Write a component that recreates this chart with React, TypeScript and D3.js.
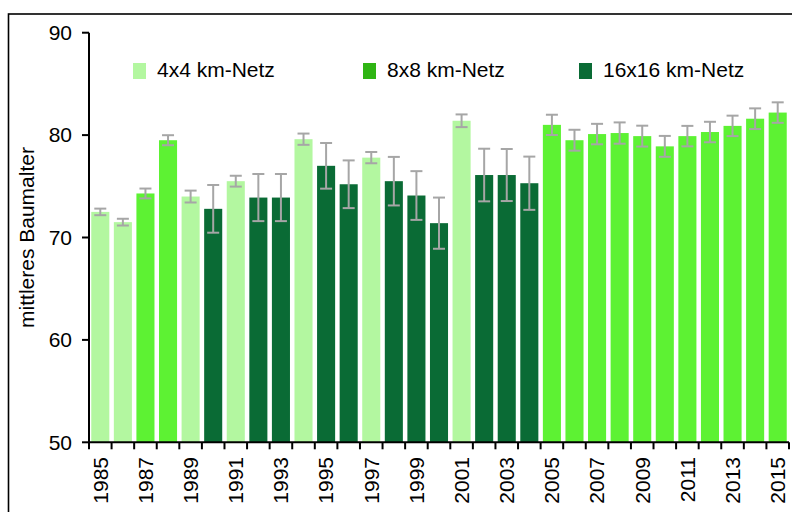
import React from "react";
import * as d3 from "d3";

const years: string[] = [
  "1985","1986","1987","1988","1989","1990","1991","1992","1993","1994",
  "1995","1996","1997","1998","1999","2000","2001","2002","2003","2004",
  "2005","2006","2007","2008","2009","2010","2011","2012","2013","2014","2015",
];
const values: number[] = [
  72.5, 71.5, 74.3, 79.5, 74.0, 72.8, 75.5, 73.9, 73.9, 79.6,
  77.0, 75.2, 77.8, 75.5, 74.1, 71.4, 81.4, 76.1, 76.1, 75.3,
  81.0, 79.5, 80.1, 80.2, 79.9, 78.9, 79.9, 80.3, 80.9, 81.6, 82.2,
];
const errors: number[] = [
  0.32, 0.33, 0.48, 0.49, 0.58, 2.33, 0.53, 2.3, 2.3, 0.55,
  2.23, 2.33, 0.55, 2.37, 2.38, 2.5, 0.62, 2.57, 2.54, 2.6,
  0.99, 1.02, 1.0, 1.04, 1.02, 1.02, 1.0, 1.0, 1.0, 1.01, 1.0,
];
const grids: string[] = [
  "4x4", "4x4", "8x8", "8x8", "4x4", "16x16", "4x4", "16x16", "16x16", "4x4",
  "16x16", "16x16", "4x4", "16x16", "16x16", "16x16", "4x4", "16x16", "16x16", "16x16",
  "8x8", "8x8", "8x8", "8x8", "8x8", "8x8", "8x8", "8x8", "8x8", "8x8", "8x8",
];
const legendKeys: string[] = ["4x4", "8x8", "16x16"];
const legendLabels: string[] = ["4x4 km-Netz", "8x8 km-Netz", "16x16 km-Netz"];
const yTicks: number[] = [50, 60, 70, 80, 90];
const xLabelYears: string[] = years.filter((_, i) => i % 2 === 0);

const barColor: Record<string, string> = { "4x4": "#b3f7a0", "8x8": "#5df233", "16x16": "#0a6b35" };
const legendColor: Record<string, string> = { "4x4": "#b3f7a0", "8x8": "#2fb514", "16x16": "#0a6b35" };

const FONT = "Liberation Sans, Arial, sans-serif";

export default function App() {
  const W = 792, H = 512;
  const x0 = 89, x1 = 789, yTop = 32.7, yBot = 442.3;
  const x = d3.scaleBand<string>().domain(years).range([x0, x1]).paddingInner(0.2).paddingOuter(0.1);
  const xb = d3.scaleBand<string>().domain(years).range([x0, x1]).padding(0);
  const y = d3.scaleLinear().domain([50, 90]).range([yBot, yTop]);
  const bw = x.bandwidth();
  const legendX = [133, 363, 579];

  return (
    <svg width={W} height={H} style={{ position: "absolute", left: 0, top: 0, background: "#fff" }} fontFamily={FONT}>
      <rect x={8.5} y={14} width={900} height={700} fill="none" stroke="#000" strokeWidth={1.6} />
      {/* bars */}
      {years.map((yr, i) => (
        <rect key={yr} x={x(yr)} y={y(values[i])} width={bw} height={y(50) - y(values[i])} fill={barColor[grids[i]]} />
      ))}
      {/* error bars */}
      {years.map((yr, i) => {
        const cx = (x(yr) as number) + bw / 2;
        const t = y(values[i] + errors[i]);
        const b = y(values[i] - errors[i]);
        return (
          <g key={"e" + yr} stroke="#a6a6a6" strokeWidth={2}>
            <line x1={cx} x2={cx} y1={t} y2={b} />
            <line x1={cx - 6} x2={cx + 6} y1={t} y2={t} />
            <line x1={cx - 6} x2={cx + 6} y1={b} y2={b} />
          </g>
        );
      })}
      {/* y axis */}
      <line x1={x0} x2={x0} y1={yTop} y2={yBot} stroke="#000" strokeWidth={2} />
      {yTicks.map((t) => (
        <g key={t}>
          <line x1={x0 - 7} x2={x0} y1={y(t)} y2={y(t)} stroke="#000" strokeWidth={2} />
          <text x={72} y={y(t)} dy="0.35em" textAnchor="end" fontSize={21} fill="#000">{t}</text>
        </g>
      ))}
      {/* x axis */}
      <line x1={x0} x2={x1} y1={yBot} y2={yBot} stroke="#000" strokeWidth={2} />
      {[...years.map((yr) => xb(yr) as number), x1].map((px, i) => (
        <line key={"t" + i} x1={px} x2={px} y1={yBot} y2={yBot + 7} stroke="#000" strokeWidth={2} />
      ))}
      {xLabelYears.map((yr) => {
        const cx = (xb(yr) as number) + xb.bandwidth() / 2;
        return (
          <text key={"l" + yr} transform={`translate(${cx},${457}) rotate(-90)`} dy="0.35em" textAnchor="end" fontSize={21} fill="#000">{yr}</text>
        );
      })}
      {/* y title */}
      <text transform={`translate(34,237.5) rotate(-90)`} textAnchor="middle" fontSize={21} fill="#000">mittleres Baumalter</text>
      {/* legend */}
      {legendKeys.map((k, i) => (
        <g key={k}>
          <rect x={legendX[i]} y={63} width={13} height={16} fill={legendColor[k]} />
          <text x={legendX[i] + 24} y={77} fontSize={21} fill="#000">{legendLabels[i]}</text>
        </g>
      ))}
    </svg>
  );
}
